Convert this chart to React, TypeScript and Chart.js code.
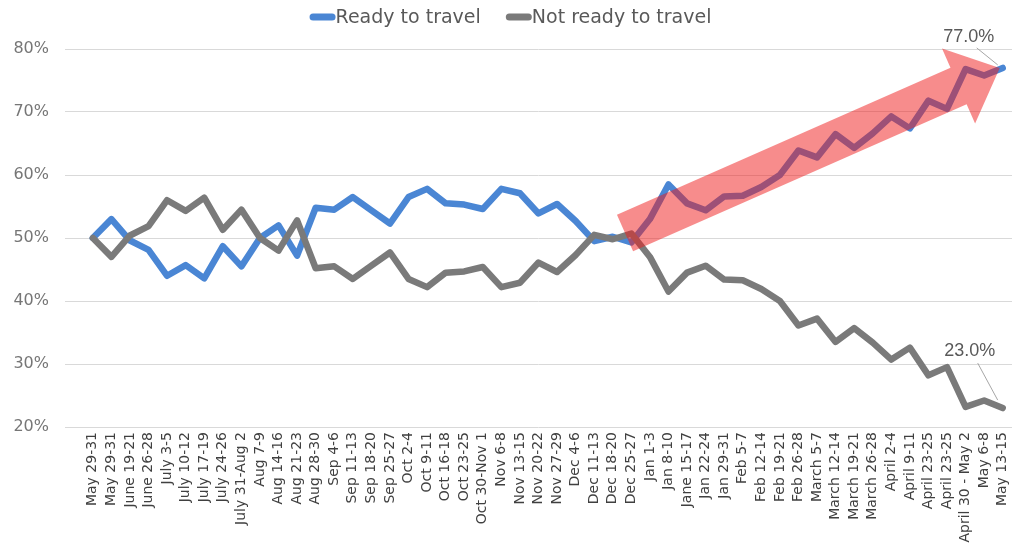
import { useEffect, useRef } from "react";
import { Chart, registerables } from "chart.js";

Chart.register(...registerables);

const categories = [
  "May 29-31", "May 29-31", "June 19-21", "June 26-28", "July 3-5", "July 10-12",
  "July 17-19", "July 24-26", "July 31-Aug 2", "Aug 7-9", "Aug 14-16", "Aug 21-23",
  "Aug 28-30", "Sep 4-6", "Sep 11-13", "Sep 18-20", "Sep 25-27", "Oct 2-4",
  "Oct 9-11", "Oct 16-18", "Oct 23-25", "Oct 30-Nov 1", "Nov 6-8", "Nov 13-15",
  "Nov 20-22", "Nov 27-29", "Dec 4-6", "Dec 11-13", "Dec 18-20", "Dec 25-27",
  "Jan 1-3", "Jan 8-10", "Jane 15-17", "Jan 22-24", "Jan 29-31", "Feb 5-7",
  "Feb 12-14", "Feb 19-21", "Feb 26-28", "March 5-7", "March 12-14", "March 19-21",
  "March 26-28", "April 2-4", "April 9-11", "April 23-25", "April 23-25",
  "April 30 - May 2", "May 6-8", "May 13-15",
];

const readyToTravel = [
  50.0, 53.0, 49.6, 48.1, 44.0, 45.7, 43.6, 48.7, 45.5, 50.0, 52.0, 47.2, 54.8,
  54.5, 56.5, 54.4, 52.3, 56.5, 57.8, 55.5, 55.3, 54.6, 57.8, 57.1, 53.9, 55.4,
  52.7, 49.5, 50.2, 49.3, 53.0, 58.5, 55.5, 54.4, 56.6, 56.7, 58.1, 60.0, 63.9,
  62.8, 66.5, 64.3, 66.6, 69.3, 67.4, 71.8, 70.5, 76.8, 75.8, 77.0,
];

const notReadyToTravel = [
  50.0, 47.0, 50.4, 51.9, 56.0, 54.3, 56.4, 51.3, 54.5, 50.0, 48.0, 52.8, 45.2,
  45.5, 43.5, 45.6, 47.7, 43.5, 42.2, 44.5, 44.7, 45.4, 42.2, 42.9, 46.1, 44.6,
  47.3, 50.5, 49.8, 50.7, 47.0, 41.5, 44.5, 45.6, 43.4, 43.3, 41.9, 40.0, 36.1,
  37.2, 33.5, 35.7, 33.4, 30.7, 32.6, 28.2, 29.5, 23.2, 24.2, 23.0,
];

const seriesNames = ["Ready to travel", "Not ready to travel"];
const endLabels = ["77.0%", "23.0%"];
const yMin = 20;
const yMax = 80;
const yStep = 10;

// trend arrow annotation, in data coordinates (category index, percent)
const arrowTail = { x: 28.66, y: 50.8 };
const arrowTip = { x: 48.84, y: 77.0 };

const BLUE = "#4a86d4";
const GRAY = "#7a7a7a";
const TEXT = "#595959";
const FONT = '"DejaVu Sans", sans-serif';

const legendPlugin = {
  id: "topLegend",
  afterDraw(chart: any) {
    const { ctx } = chart;
    const sw = 26;
    const sh = 7;
    const gap = 25;
    ctx.save();
    ctx.font = `19px ${FONT}`;
    const items = chart.data.datasets.map((d: any) => ({
      text: d.label as string,
      color: d.borderColor as string,
      w: ctx.measureText(d.label).width,
    }));
    const total = items.reduce((s: number, it: any) => s + sw + it.w, 0) + gap * (items.length - 1);
    let x = chart.width / 2 + 4 - total / 2;
    const cy = 17;
    items.forEach((it: any) => {
      ctx.fillStyle = it.color;
      ctx.beginPath();
      if (ctx.roundRect) ctx.roundRect(x, cy - sh / 2, sw, sh, sh / 2);
      else ctx.rect(x, cy - sh / 2, sw, sh);
      ctx.fill();
      ctx.fillStyle = TEXT;
      ctx.textAlign = "left";
      ctx.textBaseline = "middle";
      ctx.fillText(it.text, x + sw, cy + 1);
      x += sw + it.w + gap;
    });
    ctx.restore();
  },
};

const arrowPlugin = {
  id: "trendArrow",
  afterDatasetsDraw(chart: any) {
    const { ctx, scales } = chart;
    const x = scales.x;
    const y = scales.y;
    const tx = x.getPixelForValue(arrowTail.x);
    const ty = y.getPixelForValue(arrowTail.y);
    const hx = x.getPixelForValue(arrowTip.x);
    const hy = y.getPixelForValue(arrowTip.y);
    const dx = hx - tx;
    const dy = hy - ty;
    const len = Math.hypot(dx, dy);
    const ux = dx / len;
    const uy = dy / len;
    const px = -uy;
    const py = ux;
    const sw = 20;
    const hw = 41;
    const hl = 45;
    const bx = hx - ux * hl;
    const by = hy - uy * hl;
    ctx.save();
    ctx.beginPath();
    ctx.moveTo(tx + px * sw, ty + py * sw);
    ctx.lineTo(bx + px * sw, by + py * sw);
    ctx.lineTo(bx + px * hw, by + py * hw);
    ctx.lineTo(hx, hy);
    ctx.lineTo(bx - px * hw, by - py * hw);
    ctx.lineTo(bx - px * sw, by - py * sw);
    ctx.lineTo(tx - px * sw, ty - py * sw);
    ctx.closePath();
    ctx.fillStyle = "rgba(240, 25, 25, 0.5)";
    ctx.fill();
    ctx.restore();
  },
};

const endLabelPlugin = {
  id: "endLabels",
  afterDraw(chart: any) {
    const { ctx } = chart;
    const offsets = [
      { lx: -34, ly: -31, sx: -26, sy: -20, ex: -5, ey: -3 },
      { lx: -33, ly: -57, sx: -25, sy: -45, ex: -5, ey: -8 },
    ];
    chart.data.datasets.forEach((_: any, di: number) => {
      const meta = chart.getDatasetMeta(di);
      const pt = meta.data[meta.data.length - 1];
      if (!pt) return;
      const o = offsets[di];
      ctx.save();
      ctx.strokeStyle = "#a6a6a6";
      ctx.lineWidth = 1;
      ctx.beginPath();
      ctx.moveTo(pt.x + o.sx, pt.y + o.sy);
      ctx.lineTo(pt.x + o.ex, pt.y + o.ey);
      ctx.stroke();
      ctx.fillStyle = TEXT;
      ctx.font = '18px "Liberation Sans", Arial, sans-serif';
      ctx.textAlign = "center";
      ctx.textBaseline = "middle";
      ctx.fillText(endLabels[di], pt.x + o.lx, pt.y + o.ly);
      ctx.restore();
    });
  },
};

export default function App() {
  const ref = useRef<HTMLCanvasElement | null>(null);

  useEffect(() => {
    if (!ref.current) return;
    const chart = new Chart(ref.current, {
      type: "line",
      data: {
        datasets: [
          {
            label: seriesNames[0],
            data: readyToTravel.map((v, i) => ({ x: i, y: v })),
            borderColor: BLUE,
            backgroundColor: BLUE,
            borderWidth: 6.5,
            pointRadius: 0,
            borderJoinStyle: "round",
            borderCapStyle: "round",
            tension: 0,
            order: 1,
          },
          {
            label: seriesNames[1],
            data: notReadyToTravel.map((v, i) => ({ x: i, y: v })),
            borderColor: GRAY,
            backgroundColor: GRAY,
            borderWidth: 6.5,
            pointRadius: 0,
            borderJoinStyle: "round",
            borderCapStyle: "round",
            tension: 0,
            order: 0,
          },
        ],
      },
      options: {
        responsive: false,
        animation: false,
        layout: { padding: { left: 0, right: 1, top: 49, bottom: 0 } },
        plugins: {
          tooltip: { enabled: false },
          legend: { display: false },
        },
        scales: {
          x: {
            type: "linear",
            min: -1.5,
            max: categories.length - 0.5,
            afterBuildTicks: (axis: any) => {
              axis.ticks = categories.map((_, i) => ({ value: i }));
            },
            afterFit: (scale: any) => {
              scale.height = 117;
              scale.paddingLeft = 0;
              scale.paddingRight = 0;
            },
            grid: { display: false, drawTicks: false },
            border: { display: false },
            ticks: {
              autoSkip: false,
              maxRotation: 90,
              minRotation: 90,
              padding: 5,
              color: "#404040",
              font: { family: FONT, size: 14 },
              callback: (v: any) => categories[v as number] ?? "",
            },
          },
          y: {
            min: yMin,
            max: yMax,
            afterFit: (scale: any) => {
              scale.width = 65;
              scale.paddingTop = 0;
            },
            grid: { color: "#d9d9d9", lineWidth: 1, drawTicks: false },
            border: { display: false },
            ticks: {
              stepSize: yStep,
              padding: 16,
              color: "#767676",
              font: { family: FONT, size: 16 },
              callback: (v: any) => `${v}%`,
            },
          },
        },
      },
      plugins: [arrowPlugin, endLabelPlugin, legendPlugin],
    });
    return () => chart.destroy();
  }, []);

  return (
    <div style={{ position: "absolute", left: 0, top: 0, width: 1013, height: 544, background: "#fff" }}>
      <canvas ref={ref} width={1013} height={544} />
    </div>
  );
}
